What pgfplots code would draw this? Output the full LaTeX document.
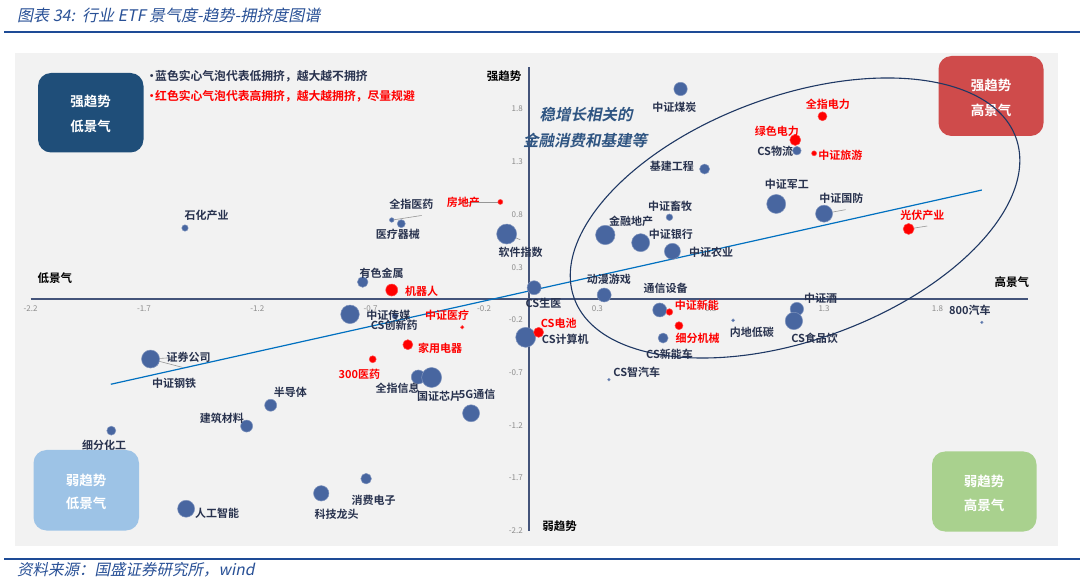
\documentclass[border=0pt]{standalone}
\usepackage{fontspec}
\setmainfont{Noto Sans CJK SC}[BoldFont={Noto Sans CJK SC Bold}]
\newfontfamily\slfont{Noto Sans CJK SC}[FakeSlant=0.2]
\newfontfamily\bslfont{Noto Sans CJK SC Bold}[FakeSlant=0.2]
\usepackage{pgfplots}
\usepackage{pgfplotstable}
\pgfplotsset{compat=1.18}
\usetikzlibrary{shapes.geometric}

\definecolor{bubblue}{RGB}{72,102,160}
\definecolor{bubedge}{RGB}{120,145,195}
\definecolor{lblnavy}{RGB}{40,50,78}
\definecolor{axisnavy}{RGB}{68,84,122}
\definecolor{trendblue}{RGB}{0,112,192}
\definecolor{ellnavy}{RGB}{31,56,100}
\definecolor{titleblue}{RGB}{40,80,150}
\definecolor{ruleblue}{RGB}{30,75,150}
\definecolor{bggray}{RGB}{242,242,242}
\definecolor{boxnavy}{RGB}{31,78,121}
\definecolor{boxred}{RGB}{207,75,75}
\definecolor{boxlblue}{RGB}{157,195,230}
\definecolor{boxgreen}{RGB}{169,209,142}
\definecolor{annblue}{RGB}{47,85,130}
\definecolor{tickgray}{RGB}{140,140,140}
\definecolor{leadgray}{RGB}{150,150,150}

\pgfplotstableread[col sep=comma]{
x,y,r,dx,dy,name
-1.519,0.671,3.2,21.6,13,石化产业
-0.607,0.747,2.3,19.7,15.7,全指医药
-0.565,0.712,4,-3.3,-10.3,医疗器械
-0.100,0.614,10,14,-18.7,软件指数
-0.735,0.159,5.3,19,8.7,有色金属
0.021,0.105,7,9.3,-15,CS生医
-0.791,-0.147,9.3,38.3,-0.7,中证传媒
-0.592,-0.163,3,-1,-9.7,CS创新药
-0.016,-0.365,10,39.6,-2,CS计算机
0.335,0.605,9.7,25.7,13.3,金融地产
0.618,0.773,3.3,0.7,11.3,中证畜牧
0.491,0.532,9,30.3,8.7,中证银行
0.631,0.450,8,38.7,-1,中证农业
0.330,0.036,7,4.7,15.7,动漫游戏
0.575,-0.106,7,6,21.7,通信设备
0.590,-0.372,5,6.4,-16.2,CS新能车
-0.490,-0.741,7,-20.6,-11.3,全指信息
-0.431,-0.746,10,7.5,-19.2,国证芯片
-1.660,-0.590,6,21,-22.3,中证钢铁
-1.671,-0.571,9,38.2,1.3,证券公司
-1.141,-1.009,6,19.6,12.6,半导体
-1.247,-1.206,6,-24.8,7.3,建筑材料
-1.844,-1.250,4.5,-7.2,-14.6,细分化工
-0.257,-1.085,8.5,6,19.3,5G通信
-0.720,-1.705,5.3,7.6,-21.3,消费电子
-0.918,-1.844,7.7,15.5,-20.7,科技龙头
-1.514,-1.990,8.5,31,-4.6,人工智能
0.667,1.989,6.7,-6.2,-18.3,中证煤炭
1.180,1.404,4.3,-21.7,-1,CS物流
0.773,1.230,5,-32.7,3,基建工程
1.089,0.899,9.5,10.7,19.3,中证军工
1.300,0.807,8.5,17.2,15,中证国防
1.180,-0.097,6.7,23.7,10.7,中证酒
1.167,-0.210,8.7,20.7,-17.3,CS食品饮
0.899,-0.204,1.5,18.6,-12,内地低碳
1.996,-0.223,1.3,-12,11.6,800汽车
0.351,-0.767,1.3,27.9,7,CS智汽车
}\bluedata

\pgfplotstableread[col sep=comma]{
x,y,r,dx,dy,name
-0.128,0.918,2.5,-37,-0.7,房地产
-0.607,0.083,6,30,-1,机器人
-0.296,-0.270,1.7,-15,12.3,中证医疗
-0.536,-0.435,5,32.3,-3.6,家用电器
-0.691,-0.573,3.5,-13.4,-15,300医药
0.041,-0.318,5,20,9,CS电池
0.618,-0.125,3.3,27.4,7.2,中证新能
0.660,-0.255,4,18.7,-12.6,细分机械
1.293,1.730,4.5,5.5,12,全指电力
1.173,1.505,5.5,-18.3,9,绿色电力
1.256,1.379,2.5,26.2,-2,中证旅游
1.673,0.662,5.5,13.7,14,光伏产业
}\reddata

\pgfplotsset{
  bubbles/.style={scatter, only marks, mark=*,
    point meta=\thisrow{r},
    visualization depends on={\thisrow{r}\as\rad},
    scatter/@pre marker code/.code={\scope[mark size=\rad pt, fill=#1, draw=#1!70!white, line width=0.5pt]},
    scatter/@post marker code/.code={\endscope}},
  bubblabels/.style={draw=none, mark=none,
    point meta=explicit symbolic,
    nodes near coords,
    visualization depends on={\thisrow{dx}\as\ddx},
    visualization depends on={\thisrow{dy}\as\ddy},
    every node near coord/.append style={anchor=center, inner sep=0pt, xshift=\ddx pt, yshift=\ddy pt, font=\bfseries\fontsize{11}{12}\selectfont, text=#1}},
}

\begin{document}
\begin{tikzpicture}
\fill[white] (0pt,0pt) rectangle (1080pt,-585pt);
\useasboundingbox (0pt,0pt) rectangle (1080pt,-585pt);
\fill[bggray] (15pt,-53pt) rectangle (1058pt,-546pt);
\draw[ruleblue, line width=2pt] (4pt,-32.5pt) -- (1080pt,-32.5pt);
\draw[ruleblue, line width=2pt] (4pt,-559pt) -- (1080pt,-559pt);
\node[anchor=west, inner sep=0pt, font=\slfont\fontsize{16}{18}\selectfont, text=titleblue] at (17pt,-15pt) {图表 34:\ \ 行业 ETF 景气度-趋势-拥挤度图谱};
\node[anchor=west, inner sep=0pt, font=\slfont\fontsize{15.5}{17}\selectfont, text=titleblue] at (17pt,-569.5pt) {资料来源：国盛证券研究所，wind};
% quadrant boxes
\fill[boxnavy, rounded corners=13pt] (38pt,-73pt) rectangle (143.5pt,-152.5pt);
\fill[boxred, rounded corners=13pt] (938.5pt,-56pt) rectangle (1043.5pt,-136pt);
\fill[boxlblue, rounded corners=13pt] (33.5pt,-450pt) rectangle (139pt,-530.5pt);
\fill[boxgreen, rounded corners=13pt] (932pt,-451.5pt) rectangle (1036.5pt,-531.5pt);
\begin{scope}[every node/.style={font=\bfseries\fontsize{13.5}{15}\selectfont, text=white, inner sep=0pt}]
\node at (90.7pt,-101.7pt) {强趋势};
\node at (90.7pt,-126pt) {低景气};
\node at (991pt,-85pt) {强趋势};
\node at (991pt,-110pt) {高景气};
\node at (86pt,-480pt) {弱趋势};
\node at (86pt,-503.3pt) {低景气};
\node at (984pt,-481.7pt) {弱趋势};
\node at (984pt,-505pt) {高景气};
\end{scope}
\node[anchor=west, inner sep=0pt, font=\bfseries\fontsize{11.8}{14}\selectfont, text=lblnavy] at (148pt,-76pt) {\makebox[7pt][c]{•}蓝色实心气泡代表低拥挤，越大越不拥挤};
\node[anchor=west, inner sep=0pt, font=\bfseries\fontsize{11.8}{14}\selectfont, text=red] at (148pt,-96.7pt) {\makebox[7pt][c]{•}红色实心气泡代表高拥挤，越大越拥挤，尽量规避};

\begin{axis}[
  scale only axis, width=997.5pt, height=464.2pt,
  at={(30.6pt,-530.9pt)}, anchor=south west,
  xmin=-2.2, xmax=2.2, ymin=-2.2, ymax=2.2,
  axis lines=middle,
  axis line style={-, axisnavy, line width=1.8pt},
  clip=false,
  xtick={-2.2,-1.7,-1.2,-0.7,-0.2,0.3,0.8,1.3,1.8},
  ytick={-2.2,-1.7,-1.2,-0.7,-0.2,0.3,0.8,1.3,1.8},
  major tick length=0pt,
  /pgf/number format/.cd, fixed, precision=1, assume math mode=true,
  /pgfplots/.cd,
  tick label style={font=\fontsize{8}{9}\selectfont, text=tickgray},
  xticklabel style={yshift=-3pt},
  yticklabel style={xshift=-3pt},
]
% leader lines
\draw[leadgray, line width=0.6pt] (axis cs:-0.300,0.918) -- (axis cs:-0.140,0.918);
\draw[leadgray, line width=0.6pt] (axis cs:-0.600,0.748) -- (axis cs:-0.475,0.790);
\draw[leadgray, line width=0.6pt] (axis cs:-1.671,-0.571) -- (axis cs:-1.555,-0.555);
\draw[leadgray, line width=0.6pt] (axis cs:-1.671,-0.571) -- (axis cs:-1.530,-0.650);
\draw[leadgray, line width=0.6pt] (axis cs:-0.100,0.614) -- (axis cs:-0.040,0.560);
\draw[leadgray, line width=0.6pt] (axis cs:1.300,0.807) -- (axis cs:1.395,0.845);
\draw[leadgray, line width=0.6pt] (axis cs:1.673,0.662) -- (axis cs:1.755,0.690);
\addplot[bubbles=bubblue] table[x=x,y=y] {\bluedata};
\addplot[bubblabels=lblnavy] table[x=x,y=y,meta=name] {\bluedata};
\addplot[bubbles=red] table[x=x,y=y] {\reddata};
\addplot[bubblabels=red] table[x=x,y=y,meta=name] {\reddata};
\addplot[trendblue, line width=1.2pt] coordinates {(-1.846,-0.810) (1.996,1.031)};
\node[draw=ellnavy, line width=1.1pt, ellipse, rotate=20, minimum width=470pt, minimum height=244pt, inner sep=0pt] at (axis cs:1.172,0.766) {};
\end{axis}

\node[font=\bfseries\fontsize{11.5}{13}\selectfont, text=black, inner sep=0pt] at (504pt,-76pt) {强趋势};
\node[font=\bfseries\fontsize{11.5}{13}\selectfont, text=black, inner sep=0pt] at (559.6pt,-526pt) {弱趋势};
\node[font=\bfseries\fontsize{11.5}{13}\selectfont, text=black, inner sep=0pt] at (55pt,-278pt) {低景气};
\node[font=\bfseries\fontsize{11.5}{13}\selectfont, text=black, inner sep=0pt] at (1011.8pt,-281.7pt) {高景气};
\node[font=\bslfont\fontsize{15.5}{18}\selectfont, text=annblue, inner sep=0pt] at (586pt,-115pt) {稳增长相关的};
\node[font=\bslfont\fontsize{15.5}{18}\selectfont, text=annblue, inner sep=0pt] at (585pt,-140.7pt) {金融消费和基建等};
\end{tikzpicture}
\end{document}
